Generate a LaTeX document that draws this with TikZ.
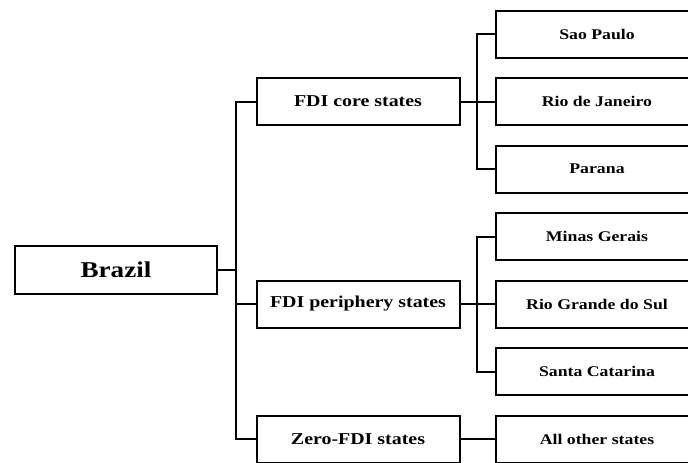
\documentclass[tikz,border=0pt]{standalone}
\usepackage{fontspec}
\setmainfont{Liberation Serif}[FakeStretch=1.2]
\usepackage{tikz}
\usetikzlibrary{positioning}

\begin{document}
\begin{tikzpicture}[
  x=1pt, y=1pt,
  box/.style={draw, line width=2pt, outer sep=0pt, inner sep=0pt,
    minimum width=203pt, minimum height=47pt,
    font=\fontsize{14.8}{17}\selectfont\bfseries},
  groupbox/.style={box, font=\fontsize{16.6}{19}\selectfont\bfseries},
  rootbox/.style={box, minimum width=202pt, minimum height=48pt,
    font=\fontsize{22.6}{26}\selectfont\bfseries},
  link/.style={line width=2pt},
]
  \useasboundingbox (0,0) rectangle (688,-463);
  \clip (0,0) rectangle (688,-463);

  % states
  \node[box] (sp) at (597,-34) {Sao Paulo};
  \node[box, below=20.5pt of sp]  (rj)    {Rio de Janeiro};
  \node[box, below=20.5pt of rj]  (pr)    {Parana};
  \node[box, below=20.5pt of pr]  (mg)    {Minas Gerais};
  \node[box, below=20.5pt of mg]  (rs)    {Rio Grande do Sul};
  \node[box, below=20.5pt of rs]  (sc)    {Santa Catarina};
  \node[box, below=20.5pt of sc]  (other) {All other states};

  % groups
  \node[groupbox, left=36pt of rj]    (core)  {FDI core states};
  \node[groupbox, left=36pt of rs]    (peri)  {FDI periphery states};
  \node[groupbox, left=36pt of other] (zero)  {Zero-FDI states};

  \node[rootbox] (brazil) at (116,-270) {Brazil};

  % forks
  \draw[link] (brazil.east) -- ++(19,0) |- (core.west);
  \draw[link] (brazil.east) -- ++(19,0) |- (peri.west);
  \draw[link] (brazil.east) -- ++(19,0) |- (zero.west);

  \draw[link] (core.east) -- ++(17,0) |- (sp.west);
  \draw[link] (core.east) -- (rj.west);
  \draw[link] (core.east) -- ++(17,0) |- (pr.west);

  \draw[link] (peri.east) -- ++(17,0) |- (mg.west);
  \draw[link] (peri.east) -- (rs.west);
  \draw[link] (peri.east) -- ++(17,0) |- (sc.west);

  \draw[link] (zero.east) -- (other.west);
\end{tikzpicture}
\end{document}
